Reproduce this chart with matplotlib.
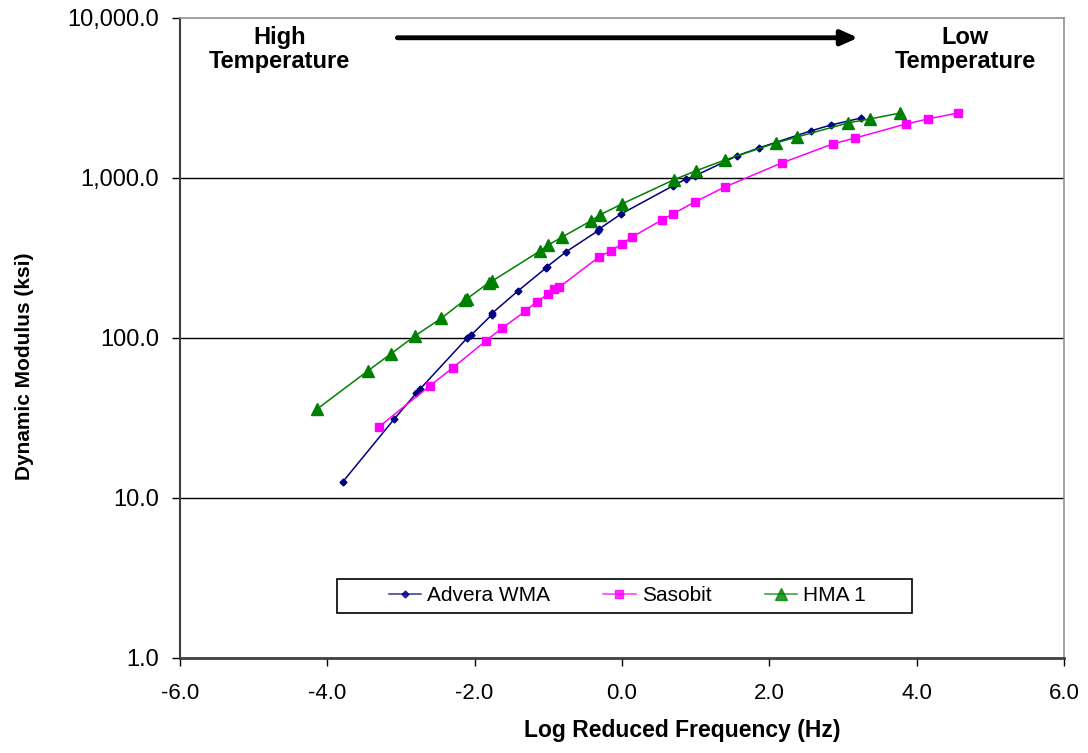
import matplotlib
matplotlib.use("Agg")
import matplotlib.pyplot as plt
from matplotlib.ticker import FixedLocator, FuncFormatter
from matplotlib.patches import Rectangle

plt.rcParams['font.family'] = ['Liberation Sans', 'DejaVu Sans']

# Data
advera_x = [-3.79, -3.09, -2.79, -2.74, -2.10, -2.05, -1.77, -1.76, -1.41, -1.03, -1.02,
            -0.76, -0.33, -0.31, -0.01, 0.69, 0.87, 0.99, 1.56, 1.86, 2.56, 2.84, 3.25]
advera_y = [12.6, 31.2, 45.3, 48, 100, 104, 139, 143, 197, 274, 278,
            345, 466, 480, 596, 891, 986, 1029, 1373, 1540, 1966, 2144, 2371]

sasobit_x = [-3.30, -2.61, -2.30, -1.85, -1.63, -1.31, -1.16, -1.00, -0.92, -0.85, -0.31, -0.15,
             0.00, 0.14, 0.54, 0.69, 0.99, 1.40, 2.17, 2.86, 3.17, 3.86, 4.16, 4.56]
sasobit_y = [27.8, 50.1, 64.9, 95.7, 115, 147, 168, 188, 202, 208, 321, 350,
             387, 428, 546, 596, 708, 879, 1241, 1631, 1778, 2176, 2338, 2548]

hma_x = [-4.14, -3.45, -3.14, -2.81, -2.45, -2.13, -2.11, -1.81, -1.76, -1.11, -1.00, -0.81,
         -0.42, -0.30, 0.00, 0.70, 1.00, 1.40, 2.09, 2.38, 3.07, 3.37, 3.78]
hma_y = [35.9, 62.2, 79.4, 103, 133, 173, 175, 221, 227, 350, 381, 428,
         539, 587, 688, 972, 1106, 1296, 1655, 1804, 2208, 2338, 2548]

series_names = ["Advera WMA", "Sasobit", "HMA 1"]
x_ticks = [-6, -4, -2, 0, 2, 4, 6]
y_ticks = [1, 10, 100, 1000, 10000]

fig = plt.figure(figsize=(10.88, 7.53), dpi=100)
ax = fig.add_axes([0.1654, 0.1262, 0.8125, 0.8500])

ax.set_yscale('log')
ax.set_xlim(-6, 6)
ax.set_ylim(1, 10000)

for yv in y_ticks[1:-1]:
    ax.axhline(yv, color='black', lw=1.0, zorder=1)

ax.plot(advera_x, advera_y, color='#000080', lw=1.1, marker='D', ms=3.5,
        label=series_names[0], zorder=3)
ax.plot(sasobit_x, sasobit_y, color='#FF00FF', lw=1.1, marker='s', ms=5.5,
        label=series_names[1], zorder=3)
ax.plot(hma_x, hma_y, color='#008000', lw=1.1, marker='^', ms=8,
        label=series_names[2], zorder=3)

ax.xaxis.set_major_locator(FixedLocator(x_ticks))
ax.yaxis.set_major_locator(FixedLocator(y_ticks))
ax.yaxis.set_minor_locator(FixedLocator([]))
ax.xaxis.set_major_formatter(FuncFormatter(lambda v, p: f"{v:.1f}"))
ax.yaxis.set_major_formatter(FuncFormatter(lambda v, p: f"{v:,.1f}"))
ax.tick_params(axis='both', direction='out', length=6, width=1, colors='black')
ax.tick_params(axis='x', pad=12, labelsize=16)
ax.tick_params(axis='y', pad=9, labelsize=17)

for s in ['top', 'right']:
    ax.spines[s].set_color('#909090')
    ax.spines[s].set_linewidth(1.2)
ax.spines['left'].set_color('#404040')
ax.spines['left'].set_linewidth(1.5)
ax.spines['bottom'].set_color('#404040')
ax.spines['bottom'].set_linewidth(2)

ax.set_xlabel("Log Reduced Frequency (Hz)", fontsize=16.5, fontweight='bold', va='center')
ax.xaxis.set_label_coords(0.568, -0.114)
ax.set_ylabel("Dynamic Modulus (ksi)", fontsize=15, fontweight='bold', va='center')
ax.yaxis.set_label_coords(-0.176, 0.456)

ax.text(0.113, 0.95, "High\nTemperature", transform=ax.transAxes, ha='center', va='center',
        fontsize=17, fontweight='bold', linespacing=1.05)
ax.text(0.888, 0.95, "Low\nTemperature", transform=ax.transAxes, ha='center', va='center',
        fontsize=17, fontweight='bold', linespacing=1.05)
ax.annotate("", xy=(0.767, 0.969), xytext=(0.246, 0.969), xycoords='axes fraction',
            arrowprops=dict(arrowstyle='-|>,head_length=1.0,head_width=0.45', lw=3.5,
                            color='black', shrinkA=0, shrinkB=0))

# legend box (drawn separately, wider than its contents as in the reference)
ax.add_patch(Rectangle((0.178, 0.070), 0.650, 0.053, transform=ax.transAxes,
                       facecolor='white', edgecolor='black', lw=1.2, zorder=4))
leg = ax.legend(loc='center', bbox_to_anchor=(0.506, 0.097), ncol=3, fontsize=15,
                frameon=False, handlelength=1.55, handletextpad=0.3,
                columnspacing=2.55, borderpad=0.2)
leg.set_zorder(5)
for h in leg.legend_handles:
    h.set_alpha(0.8)

fig.savefig("out.png", dpi=100, facecolor='white')
